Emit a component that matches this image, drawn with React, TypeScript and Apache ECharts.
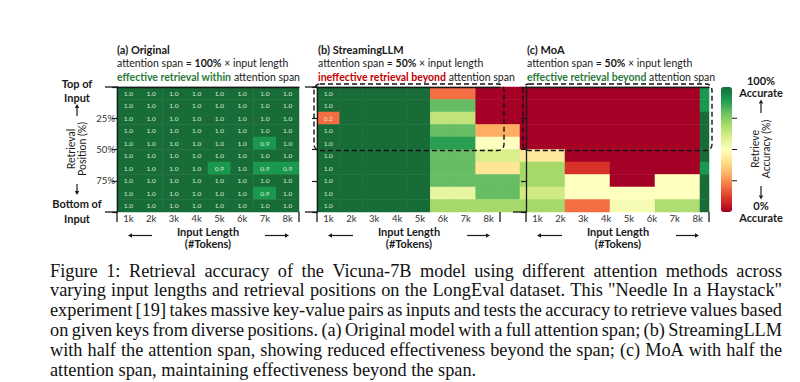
import React, { useEffect, useRef } from 'react';
import * as echarts from 'echarts';

// ---------- data ----------
const xLabels = ['1k', '2k', '3k', '4k', '5k', '6k', '7k', '8k'];
const rowNames = ['r0', 'r1', 'r2', 'r3', 'r4', 'r5', 'r6', 'r7', 'r8', 'r9'];
const yTickValues = [25, 50, 75];

// (a) Original – rows top→bottom, columns 1k..8k
const originalRows: number[][] = [
  [1.0, 1.0, 1.0, 1.0, 1.0, 1.0, 1.0, 1.0],
  [1.0, 1.0, 1.0, 1.0, 1.0, 1.0, 1.0, 1.0],
  [1.0, 1.0, 1.0, 1.0, 1.0, 1.0, 1.0, 1.0],
  [1.0, 1.0, 1.0, 1.0, 1.0, 1.0, 1.0, 1.0],
  [1.0, 1.0, 1.0, 1.0, 1.0, 1.0, 0.9, 1.0],
  [1.0, 1.0, 1.0, 1.0, 1.0, 1.0, 1.0, 1.0],
  [1.0, 1.0, 1.0, 1.0, 0.9, 1.0, 0.9, 0.9],
  [1.0, 1.0, 1.0, 1.0, 1.0, 1.0, 1.0, 1.0],
  [1.0, 1.0, 1.0, 1.0, 1.0, 1.0, 0.9, 1.0],
  [1.0, 1.0, 1.0, 1.0, 1.0, 1.0, 1.0, 1.0],
];

// (b) StreamingLLM – columns 1k..8k plus one extra column
const streamingCols = ['1k', '2k', '3k', '4k', '5k', '6k', '7k', '8k', '9k'];
const streamingRows: number[][] = [
  [1.0, 1.0, 1.0, 1.0, 1.0, 0.2, 0.2, 0.0, 0.0],
  [1.0, 1.0, 1.0, 1.0, 1.0, 0.8, 0.8, 0.0, 0.0],
  [0.2, 1.0, 1.0, 1.0, 1.0, 0.65, 0.65, 0.0, 0.0],
  [1.0, 1.0, 1.0, 1.0, 1.0, 0.8, 0.8, 0.3, 0.3],
  [1.0, 1.0, 1.0, 1.0, 1.0, 0.88, 0.88, 0.5, 0.5],
  [1.0, 1.0, 1.0, 1.0, 1.0, 0.8, 0.8, 0.6, 0.6],
  [1.0, 1.0, 1.0, 1.0, 1.0, 0.8, 0.8, 0.42, 0.42],
  [1.0, 1.0, 1.0, 1.0, 1.0, 0.8, 0.8, 0.8, 0.8],
  [1.0, 1.0, 1.0, 1.0, 1.0, 0.56, 0.56, 0.8, 0.8],
  [1.0, 1.0, 1.0, 1.0, 1.0, 0.7, 0.7, 0.7, 0.7],
];

// (c) MoA – four wide blocks
const moaBlocks = ['b1', 'b2', 'b3', 'b4'];
const moaRows: number[][] = [
  [0.0, 0.0, 0.0, 0.0],
  [0.0, 0.0, 0.0, 0.0],
  [0.0, 0.0, 0.0, 0.0],
  [0.0, 0.0, 0.0, 0.0],
  [0.0, 0.0, 0.0, 0.0],
  [0.43, 0.0, 0.0, 0.0],
  [0.7, 0.1, 0.0, 0.0],
  [0.7, 0.5, 0.0, 0.5],
  [0.62, 0.5, 0.5, 0.5],
  [0.7, 0.2, 0.52, 0.68],
];
const moaStrip: number[] = [0.9, 0.9, 1.0, 1.0, 1.0, 1.0, 0.9, 1.0, 1.0, 1.0];

const palette = ['#a50026', '#d73027', '#f46d43', '#fdae61', '#fee08b', '#ffffbf', '#d9ef8b', '#a6d96a', '#66bd63', '#1a9850', '#176c38'];

const captionLines = [
  'Figure 1: Retrieval accuracy of the Vicuna-7B model using different attention methods across',
  'varying input lengths and retrieval positions on the LongEval dataset. This "Needle In a Haystack"',
  'experiment [19] takes massive key-value pairs as inputs and tests the accuracy to retrieve values based',
  'on given keys from diverse positions. (a) Original model with a full attention span; (b) StreamingLLM',
  'with half the attention span, showing reduced effectiveness beyond the span; (c) MoA with half the',
  'attention span, maintaining effectiveness beyond the span.',
];

// ---------- helpers ----------
const FF = 'Lato';
const INK = '#1a1a1a';
const GREEN_T = '#2b7a3b';
const RED_T = '#c00000';
const CAP_SIZE = 18.3;

function toCells(rows: number[][]) {
  const out: number[][] = [];
  rows.forEach((row, r) => row.forEach((v, c) => out.push([c, r, v])));
  return out;
}

function txt(x: number, y: number, text: string, o: any = {}) {
  return {
    type: 'text', x, y, z: 20, rotation: o.rotation || 0,
    style: {
      text, fontFamily: o.fontFamily || FF, fontSize: o.fontSize || 10.5,
      fontWeight: o.bold ? 'bold' : 'normal', fill: o.fill || INK,
      align: o.align || 'left', verticalAlign: 'middle', rich: o.rich,
    },
  };
}

function ln(x1: number, y1: number, x2: number, y2: number, w = 1.3) {
  return { type: 'line', z: 20, shape: { x1, y1, x2, y2 }, style: { stroke: INK, lineWidth: w } };
}

function arrow(x1: number, y1: number, x2: number, y2: number) {
  const dx = x2 - x1, dy = y2 - y1;
  const L = Math.hypot(dx, dy);
  const ux = dx / L, uy = dy / L;
  const hl = 4, hw = 2.2;
  const bx = x2 - ux * hl, by = y2 - uy * hl;
  return [
    ln(x1, y1, bx, by, 1.2),
    { type: 'polygon', z: 20, shape: { points: [[x2, y2], [bx - uy * hw, by + ux * hw], [bx + uy * hw, by - ux * hw]] }, style: { fill: INK } },
  ];
}

function captionElements() {
  const font = `${CAP_SIZE}px "Liberation Serif"`;
  const ctx = document.createElement('canvas').getContext('2d') as CanvasRenderingContext2D;
  ctx.font = font;
  const x0 = 50, width = 732;
  const baseY = 270.5, step = 19.8;
  const els: any[] = [];
  captionLines.forEach((line, i) => {
    const words = line.split(' ');
    const ws = words.map((w) => ctx.measureText(w).width);
    const total = ws.reduce((a, b) => a + b, 0);
    const last = i === captionLines.length - 1;
    const gap = last ? ctx.measureText(' ').width : (width - total) / (words.length - 1);
    let x = x0;
    words.forEach((w, k) => {
      els.push(txt(x, baseY + i * step, w, { fontFamily: 'Liberation Serif', fontSize: CAP_SIZE, fill: '#111' }));
      x += ws[k] + gap;
    });
  });
  return els;
}

function panelTitle(x: number, title: string, pct: string, lead: string, leadColor: string) {
  const base = { fontFamily: FF, fontSize: 10.5, fill: INK };
  return [
    txt(x, 49, title, { bold: true, fontSize: 11 }),
    txt(x, 63, `attention span = {b|${pct}} × input length`, { rich: { b: { ...base, fontWeight: 'bold' } } }),
    txt(x, 77, `{c|${lead}} attention span`, { rich: { c: { ...base, fontWeight: 'bold', fill: leadColor } } }),
  ];
}

function xTitle(cx: number, lx1: number, lx2: number, rx1: number, rx2: number) {
  return [
    txt(cx, 231, 'Input Length', { bold: true, align: 'center', fontSize: 11 }),
    txt(cx, 243, '(#Tokens)', { bold: true, align: 'center', fontSize: 11 }),
    ...arrow(lx2, 235.5, lx1, 235.5),
    ...arrow(rx1, 235.5, rx2, 235.5),
  ];
}

export default function App() {
  const ref = useRef<HTMLDivElement>(null);
  useEffect(() => {
    document.body.style.margin = '0';
    const chart = echarts.init(ref.current as HTMLDivElement, null, { renderer: 'svg' });

    const cellLabel = { color: '#dcecd2', fontSize: 6.5, fontFamily: FF };
    const hiddenCat = (gridIndex: number, data: string[], inverse = false) => ({
      type: 'category', gridIndex, data, show: false, inverse,
    });
    const shownX = (gridIndex: number) => ({
      type: 'category', gridIndex, data: xLabels, z: 10,
      axisLine: { show: true, lineStyle: { color: INK, width: 1.3 } },
      axisTick: { show: false },
      axisLabel: { color: '#333', fontSize: 9.5, fontFamily: FF, margin: 1 },
      splitLine: { show: false },
    });
    const valueY = (gridIndex: number, labels: boolean) => ({
      type: 'value', gridIndex, min: 0, max: 100, interval: 25, inverse: true, position: 'left', z: 10,
      axisLine: { show: true, lineStyle: { color: INK, width: 1.3 } },
      axisTick: { show: true, length: 5, lineStyle: { color: INK, width: 1.2 } },
      axisLabel: {
        show: labels, color: '#333', fontSize: 9.5, fontFamily: FF, margin: 2,
        formatter: (v: number) => (yTickValues.includes(v) ? `${v}%` : ''),
      },
      splitLine: { show: false },
    });

    const option: any = {
      animation: false,
      grid: [
        { left: 117, top: 87, width: 182, height: 125 },
        { left: 317, top: 87, width: 204, height: 125 },
        { left: 520, top: 87, width: 180, height: 125 },
        { left: 700, top: 87, width: 9, height: 125 },
        { left: 317, top: 87, width: 183, height: 125 },
        { left: 526, top: 87, width: 183, height: 125 },
      ],
      xAxis: [
        shownX(0),
        hiddenCat(1, streamingCols),
        hiddenCat(2, moaBlocks),
        hiddenCat(3, ['s']),
        shownX(4),
        shownX(5),
      ],
      yAxis: [
        { ...hiddenCat(0, rowNames, true), position: 'right' },
        hiddenCat(1, rowNames, true),
        hiddenCat(2, rowNames, true),
        hiddenCat(3, rowNames, true),
        valueY(0, true),
        valueY(4, false),
        valueY(5, false),
      ],
      visualMap: {
        type: 'continuous', min: 0, max: 1, calculable: false, hoverLink: false,
        seriesIndex: [0, 1, 2, 3], left: 721, top: 87, itemWidth: 11, itemHeight: 125, padding: 0,
        inRange: { color: palette },
      },
      series: [
        {
          type: 'heatmap', xAxisIndex: 0, yAxisIndex: 0, data: toCells(originalRows),
          label: { show: true, ...cellLabel, formatter: (p: any) => p.value[2].toFixed(1) },
          emphasis: { disabled: true },
        },
        {
          type: 'heatmap', xAxisIndex: 1, yAxisIndex: 1, data: toCells(streamingRows),
          label: { show: true, ...cellLabel, formatter: (p: any) => (p.value[0] === 0 ? p.value[2].toFixed(1) : '') },
          emphasis: { disabled: true },
        },
        {
          type: 'heatmap', xAxisIndex: 2, yAxisIndex: 2, data: toCells(moaRows),
          emphasis: { disabled: true },
        },
        {
          type: 'heatmap', xAxisIndex: 3, yAxisIndex: 3, data: toCells(moaStrip.map((v) => [v])),
          emphasis: { disabled: true },
        },
      ],
      graphic: [
        ...panelTitle(117, '(a) Original', '100%', 'effective retrieval within', GREEN_T),
        ...panelTitle(318, '(b) StreamingLLM', '50%', 'ineffective retrieval beyond', RED_T),
        ...panelTitle(527, '(c) MoA', '50%', 'effective retrieval beyond', GREEN_T),
        // left side descriptors
        txt(77, 83, 'Top of', { bold: true, align: 'center', fontSize: 11 }),
        txt(77, 97, 'Input', { bold: true, align: 'center', fontSize: 11 }),
        ...arrow(77, 116, 77, 104),
        txt(70.5, 149, 'Retrieval', { align: 'center', rotation: Math.PI / 2, fontSize: 10.5 }),
        txt(82, 149, 'Position (%)', { align: 'center', rotation: Math.PI / 2, fontSize: 10.5 }),
        ...arrow(77, 184, 77, 195),
        txt(77, 203.5, 'Bottom of', { bold: true, align: 'center', fontSize: 11 }),
        txt(77, 218, 'Input', { bold: true, align: 'center', fontSize: 11 }),
        // long end ticks and x-axis end ticks
        ln(105, 87, 117, 87), ln(105, 212, 117, 212),
        ln(117, 212, 117, 222), ln(299, 212, 299, 222),
        ln(305, 87, 317, 87), ln(305, 212, 317, 212),
        ln(317, 212, 317, 222), ln(500, 212, 500, 222),
        ln(513, 212, 526, 212), ln(526, 212, 526, 222), ln(709, 212, 709, 222),
        // x titles
        ...xTitle(208, 128, 152, 265, 289),
        ...xTitle(409, 328, 353, 467, 490),
        ...xTitle(618, 537, 562, 676, 699),
        // dashed boxes
        { type: 'rect', z: 25, shape: { x: 314, y: 84, width: 190, height: 66.5, r: 6 }, style: { fill: 'none', stroke: '#111', lineWidth: 1.4, lineDash: [5, 3] } },
        { type: 'rect', z: 25, shape: { x: 523, y: 84, width: 189, height: 66.5, r: 6 }, style: { fill: 'none', stroke: '#111', lineWidth: 1.4, lineDash: [5, 3] } },
        // colour bar ticks and labels
        ln(732, 118.25, 737, 118.25, 1), ln(732, 149.5, 737, 149.5, 1), ln(732, 180.75, 737, 180.75, 1),
        txt(761, 80, '100%', { bold: true, align: 'center', fontSize: 11 }),
        txt(761, 92, 'Accurate', { bold: true, align: 'center', fontSize: 11 }),
        ...arrow(761, 113, 761, 99.5),
        txt(754.5, 149, 'Retrieve', { align: 'center', rotation: Math.PI / 2 }),
        txt(766, 149, 'Accuracy (%)', { align: 'center', rotation: Math.PI / 2 }),
        ...arrow(761, 186, 761, 199.5),
        txt(761, 205.5, '0%', { bold: true, align: 'center', fontSize: 11 }),
        txt(761, 217.5, 'Accurate', { bold: true, align: 'center', fontSize: 11 }),
        ...captionElements(),
      ],
    };
    chart.setOption(option);
    return () => chart.dispose();
  }, []);
  return <div ref={ref} style={{ width: 800, height: 382 }} />;
}
